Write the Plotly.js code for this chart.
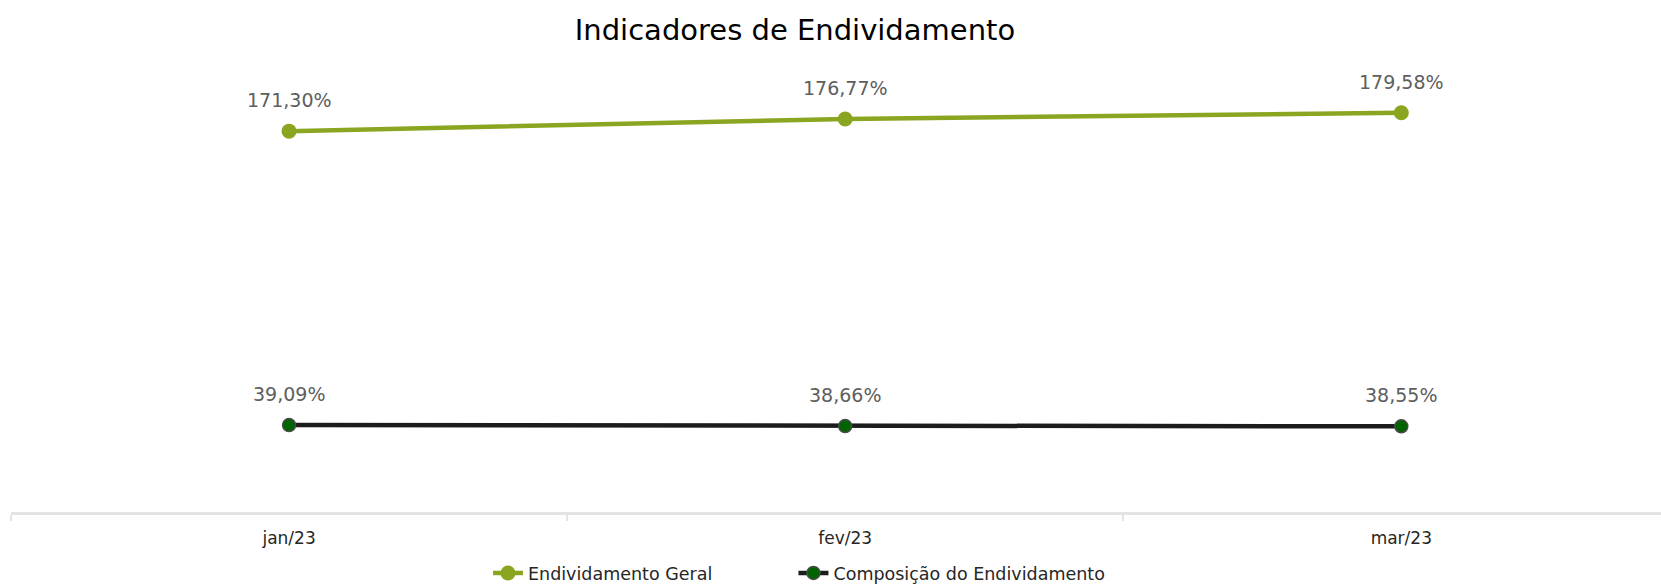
<!DOCTYPE html>
<html><head><meta charset="utf-8">
<script src="https://cdn.plot.ly/plotly-3.0.1.min.js"></script>
<style>html,body{margin:0;padding:0;background:#fff}#chart{width:1661px;height:586px}</style>
</head><body><div id="chart"></div>
<script>
const categories = ["jan/23", "fev/23", "mar/23"];
const endividamentoGeral = [171.30, 176.77, 179.58];
const composicaoEndividamento = [39.09, 38.66, 38.55];
const seriesNames = ["Endividamento Geral", "Composição do Endividamento"];

const fmt = v => v.toFixed(2).replace('.', ',') + '%';
const FONT = '"DejaVu Sans", sans-serif';

const traces = [
  {x: categories, y: endividamentoGeral, name: seriesNames[0], type: 'scatter', mode: 'lines+markers',
   line: {color: '#8aa51f', width: 4.5}, marker: {color: '#8aa51f', size: 15}, legend: 'legend'},
  {x: categories, y: composicaoEndividamento, name: seriesNames[1], type: 'scatter', mode: 'lines+markers',
   line: {color: '#1c1c1c', width: 4.5}, marker: {color: '#006400', size: 13, line: {color: '#4a4a4a', width: 1.5}},
   legend: 'legend2'}
];

const annotations = [];
[endividamentoGeral, composicaoEndividamento].forEach(arr => {
  arr.forEach((v, i) => annotations.push({x: categories[i], y: v, xref: 'x', yref: 'y', text: fmt(v),
    showarrow: false, yshift: 31, font: {family: FONT, size: 19, color: '#5e5e5e'}}));
});

const legendFont = {family: FONT, size: 17.5, color: '#262626'};
const layout = {
  width: 1661, height: 586,
  margin: {l: 11, r: 0, t: 60, b: 74},
  paper_bgcolor: '#fff', plot_bgcolor: '#fff',
  title: {text: 'Indicadores de Endividamento', x: 0.4786, xanchor: 'center', y: 0.9497, yanchor: 'middle',
          font: {family: FONT, size: 29, color: '#000'}},
  xaxis: {type: 'category', range: [-0.5, 2.467], showgrid: false, zeroline: false,
          showline: true, linecolor: '#e3e3e3', linewidth: 2.5,
          ticks: 'outside', tickson: 'boundaries', ticklen: 6, tickcolor: '#e3e3e3', tickwidth: 1.5,
          ticklabelstandoff: 9,
          tickfont: {family: FONT, size: 17, color: '#262626'}},
  yaxis: {range: [0, 203.3], visible: false, showgrid: false, zeroline: false, fixedrange: true},
  showlegend: true,
  legend: {orientation: 'h', xref: 'container', x: 0.2938, xanchor: 'left', yref: 'container', y: 0.022, yanchor: 'middle',
           font: legendFont, bgcolor: 'rgba(0,0,0,0)'},
  legend2: {orientation: 'h', xref: 'container', x: 0.4777, xanchor: 'left', yref: 'container', y: 0.022, yanchor: 'middle',
           font: legendFont, bgcolor: 'rgba(0,0,0,0)'},
  annotations: annotations
};

Plotly.newPlot('chart', traces, layout, {displayModeBar: false, staticPlot: true});
</script></body></html>
